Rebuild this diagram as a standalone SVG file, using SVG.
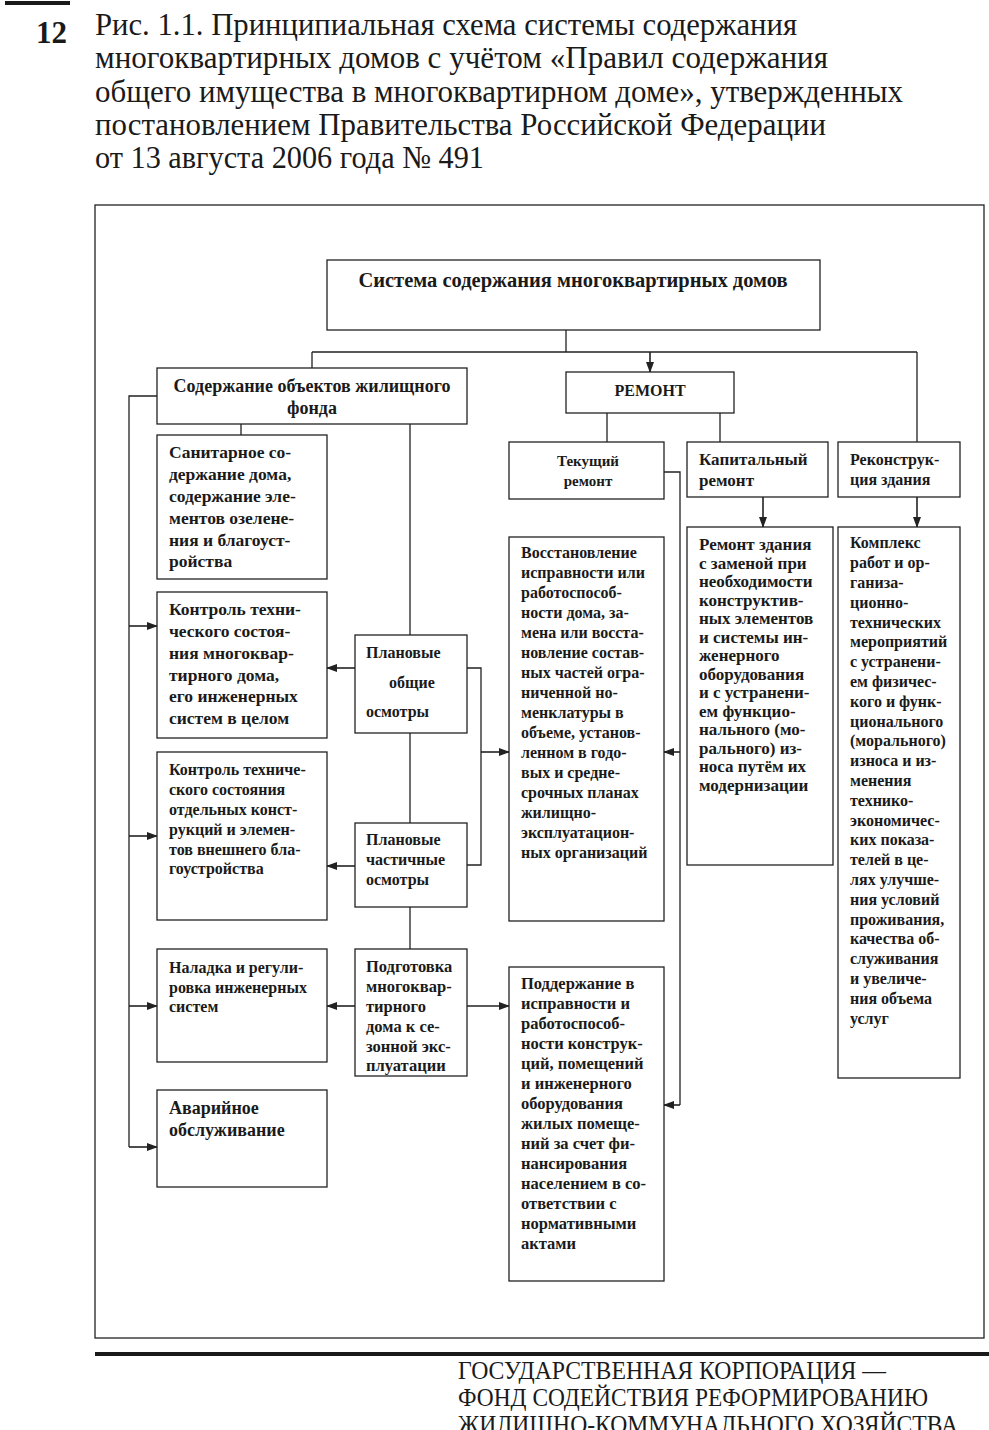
<svg xmlns="http://www.w3.org/2000/svg" width="989" height="1430" viewBox="0 0 989 1430">
<defs>
<style>
.bx{fill:#fff;stroke:#222;stroke-width:1.3}
.ln{fill:none;stroke:#222;stroke-width:1.3}
.ar{fill:none;stroke:#222;stroke-width:1.6;marker-end:url(#ah)}
.t{font-family:"Liberation Serif","Times New Roman",serif;font-weight:bold;fill:#1a1a1a}
.s15{font-size:15px}
.s16{font-size:16px}
.s165{font-size:16.5px}
.s17{font-size:17px}
.s175{font-size:17.5px}
.s18{font-size:18px}
.hd{font-family:"Liberation Serif","Times New Roman",serif;fill:#1a1a1a;font-size:32px}
.ft{font-family:"Liberation Serif","Times New Roman",serif;fill:#1a1a1a;font-size:25px}
</style>
<marker id="ah" markerWidth="11" markerHeight="8" refX="10" refY="4" orient="auto" markerUnits="userSpaceOnUse">
<path d="M0,0 L11,4 L0,8 z" fill="#222"/>
</marker>
</defs>
<rect width="989" height="1430" fill="#fff"/>

<g id="header">
<rect x="5" y="1" width="65" height="4" fill="#1a1a1a"/>
<text x="36" y="43" font-family="Liberation Serif, serif" font-weight="bold" font-size="31" fill="#1a1a1a">12</text>
<text class="hd" x="95" y="35" textLength="702" lengthAdjust="spacingAndGlyphs">Рис. 1.1. Принципиальная схема системы содержания</text>
<text class="hd" x="95" y="68" textLength="733" lengthAdjust="spacingAndGlyphs">многоквартирных домов с учётом «Правил содержания</text>
<text class="hd" x="95" y="102" textLength="808" lengthAdjust="spacingAndGlyphs">общего имущества в многоквартирном доме», утвержденных</text>
<text class="hd" x="95" y="135" textLength="731" lengthAdjust="spacingAndGlyphs">постановлением Правительства Российской Федерации</text>
<text class="hd" x="95" y="168" textLength="389" lengthAdjust="spacingAndGlyphs">от 13 августа 2006 года № 491</text>
</g>

<rect id="frame" x="95" y="205" width="889" height="1133" fill="none" stroke="#222" stroke-width="1.3"/>

<g id="connectors">
<path class="ln" d="M566,330 V352 M312,352 H917 M312,352 V368 M917,352 V442 M607,413 V442 M720,413 V442 M241,424 V435"/>
<path class="ar" d="M650,352 V372"/>
<path class="ln" d="M157,396 H129 V1147"/>
<path class="ar" d="M129,626 H157"/>
<path class="ar" d="M129,836 H157"/>
<path class="ar" d="M129,1006 H157"/>
<path class="ar" d="M129,1147 H157"/>
<path class="ln" d="M410,424 V635 M410,733 V823 M410,907 V949"/>
<path class="ar" d="M355,668 H327"/>
<path class="ar" d="M355,866 H327"/>
<path class="ar" d="M355,1006 H327"/>
<path class="ln" d="M467,668 H481 V865 H467"/>
<path class="ar" d="M481,752 H509"/>
<path class="ar" d="M467,1006 H509"/>
<path class="ln" d="M664,472 H680 V1105"/>
<path class="ar" d="M680,752 H664"/>
<path class="ar" d="M680,1105 H664"/>
<path class="ar" d="M763,497 V527"/>
<path class="ar" d="M917,497 V527"/>
</g>

<g id="n-system">
<rect class="bx" x="327" y="260" width="493" height="70"/>
<text class="t" x="573" y="287" font-size="20.5" text-anchor="middle">Система содержания многоквартирных домов</text>
</g>

<g id="n-soderzhanie">
<rect class="bx" x="157" y="368" width="310" height="56"/>
<text class="t s18" x="312" y="392" text-anchor="middle">Содержание объектов жилищного</text>
<text class="t s18" x="312" y="414" text-anchor="middle">фонда</text>
</g>

<g id="n-remont">
<rect class="bx" x="566" y="372" width="168" height="41"/>
<text class="t s16" x="650" y="396" text-anchor="middle">РЕМОНТ</text>
</g>

<g id="n-tekushchiy">
<rect class="bx" x="509" y="442" width="155" height="57"/>
<text class="t s15" x="588" y="466" text-anchor="middle">Текущий</text>
<text class="t s15" x="588" y="486" text-anchor="middle">ремонт</text>
</g>

<g id="n-kapitalnyy">
<rect class="bx" x="687" y="442" width="141" height="55"/>
<text class="t s17" x="699" y="465">Капитальный</text>
<text class="t s17" x="699" y="486">ремонт</text>
</g>

<g id="n-rekonstr">
<rect class="bx" x="838" y="442" width="122" height="55"/>
<text class="t s16" x="850" y="465">Реконструк-</text>
<text class="t s16" x="850" y="485">ция здания</text>
</g>

<g id="n-sanitar">
<rect class="bx" x="157" y="435" width="170" height="144"/>
<text class="t s175">
<tspan x="169" y="458">Санитарное со-</tspan>
<tspan x="169" y="480">держание дома,</tspan>
<tspan x="169" y="502">содержание эле-</tspan>
<tspan x="169" y="524">ментов озелене-</tspan>
<tspan x="169" y="546">ния и благоуст-</tspan>
<tspan x="169" y="567">ройства</tspan>
</text>
</g>

<g id="n-kontrol1">
<rect class="bx" x="157" y="592" width="170" height="146"/>
<text class="t s175">
<tspan x="169" y="615">Контроль техни-</tspan>
<tspan x="169" y="637">ческого состоя-</tspan>
<tspan x="169" y="659">ния  многоквар-</tspan>
<tspan x="169" y="681">тирного дома,</tspan>
<tspan x="169" y="702">его инженерных</tspan>
<tspan x="169" y="724">систем в целом</tspan>
</text>
</g>

<g id="n-kontrol2">
<rect class="bx" x="157" y="752" width="170" height="168"/>
<text class="t s16">
<tspan x="169" y="775">Контроль техниче-</tspan>
<tspan x="169" y="795">ского состояния</tspan>
<tspan x="169" y="815">отдельных конст-</tspan>
<tspan x="169" y="835">рукций и элемен-</tspan>
<tspan x="169" y="855">тов внешнего бла-</tspan>
<tspan x="169" y="874">гоустройства</tspan>
</text>
</g>

<g id="n-naladka">
<rect class="bx" x="157" y="949" width="170" height="113"/>
<text class="t s16">
<tspan x="169" y="973">Наладка и регули-</tspan>
<tspan x="169" y="993">ровка инженерных</tspan>
<tspan x="169" y="1012">систем</tspan>
</text>
</g>

<g id="n-avariynoe">
<rect class="bx" x="157" y="1090" width="170" height="97"/>
<text class="t s18">
<tspan x="169" y="1114">Аварийное</tspan>
<tspan x="169" y="1136">обслуживание</tspan>
</text>
</g>

<g id="n-plan-obshchie">
<rect class="bx" x="355" y="635" width="112" height="98"/>
<text class="t s16">
<tspan x="366" y="658">Плановые</tspan>
<tspan x="389" y="688">общие</tspan>
<tspan x="366" y="717">осмотры</tspan>
</text>
</g>

<g id="n-plan-chastichnye">
<rect class="bx" x="355" y="823" width="112" height="84"/>
<text class="t s16">
<tspan x="366" y="845">Плановые</tspan>
<tspan x="366" y="865">частичные</tspan>
<tspan x="366" y="885">осмотры</tspan>
</text>
</g>

<g id="n-podgotovka">
<rect class="bx" x="355" y="949" width="112" height="127"/>
<text class="t s165">
<tspan x="366" y="972">Подготовка</tspan>
<tspan x="366" y="992">многоквар-</tspan>
<tspan x="366" y="1012">тирного</tspan>
<tspan x="366" y="1032">дома к се-</tspan>
<tspan x="366" y="1052">зонной экс-</tspan>
<tspan x="366" y="1071">плуатации</tspan>
</text>
</g>

<g id="n-vosstanovlenie">
<rect class="bx" x="509" y="537" width="155" height="384"/>
<text class="t s16">
<tspan x="521" y="558">Восстановление</tspan>
<tspan x="521" y="578">исправности или</tspan>
<tspan x="521" y="598">работоспособ-</tspan>
<tspan x="521" y="618">ности дома, за-</tspan>
<tspan x="521" y="638">мена или восста-</tspan>
<tspan x="521" y="658">новление состав-</tspan>
<tspan x="521" y="678">ных частей огра-</tspan>
<tspan x="521" y="698">ниченной но-</tspan>
<tspan x="521" y="718">менклатуры в</tspan>
<tspan x="521" y="738">объеме, установ-</tspan>
<tspan x="521" y="758">ленном в годо-</tspan>
<tspan x="521" y="778">вых и средне-</tspan>
<tspan x="521" y="798">срочных планах</tspan>
<tspan x="521" y="818">жилищно-</tspan>
<tspan x="521" y="838">эксплуатацион-</tspan>
<tspan x="521" y="858">ных организаций</tspan>
</text>
</g>

<g id="n-podderzhanie">
<rect class="bx" x="509" y="967" width="155" height="314"/>
<text class="t s165">
<tspan x="521" y="989">Поддержание в</tspan>
<tspan x="521" y="1009">исправности и</tspan>
<tspan x="521" y="1029">работоспособ-</tspan>
<tspan x="521" y="1049">ности конструк-</tspan>
<tspan x="521" y="1069">ций, помещений</tspan>
<tspan x="521" y="1089">и инженерного</tspan>
<tspan x="521" y="1109">оборудования</tspan>
<tspan x="521" y="1129">жилых помеще-</tspan>
<tspan x="521" y="1149">ний за счет фи-</tspan>
<tspan x="521" y="1169">нансирования</tspan>
<tspan x="521" y="1189">населением в со-</tspan>
<tspan x="521" y="1209">ответствии с</tspan>
<tspan x="521" y="1229">нормативными</tspan>
<tspan x="521" y="1249">актами</tspan>
</text>
</g>

<g id="n-remont-zdaniya">
<rect class="bx" x="687" y="527" width="146" height="338"/>
<text class="t s17">
<tspan x="699" y="550">Ремонт здания</tspan>
<tspan x="699" y="569">с заменой при</tspan>
<tspan x="699" y="587">необходимости</tspan>
<tspan x="699" y="606">конструктив-</tspan>
<tspan x="699" y="624">ных элементов</tspan>
<tspan x="699" y="643">и системы ин-</tspan>
<tspan x="699" y="661">женерного</tspan>
<tspan x="699" y="680">оборудования</tspan>
<tspan x="699" y="698">и с устранени-</tspan>
<tspan x="699" y="717">ем функцио-</tspan>
<tspan x="699" y="735">нального (мо-</tspan>
<tspan x="699" y="754">рального) из-</tspan>
<tspan x="699" y="772">носа путём их</tspan>
<tspan x="699" y="791">модернизации</tspan>
</text>
</g>

<g id="n-kompleks">
<rect class="bx" x="838" y="527" width="122" height="551"/>
<text class="t s16">
<tspan x="850" y="548">Комплекс</tspan>
<tspan x="850" y="568">работ и ор-</tspan>
<tspan x="850" y="588">ганиза-</tspan>
<tspan x="850" y="608">ционно-</tspan>
<tspan x="850" y="628">технических</tspan>
<tspan x="850" y="647">мероприятий</tspan>
<tspan x="850" y="667">с устранени-</tspan>
<tspan x="850" y="687">ем физичес-</tspan>
<tspan x="850" y="707">кого и функ-</tspan>
<tspan x="850" y="727">ционального</tspan>
<tspan x="850" y="746">(морального)</tspan>
<tspan x="850" y="766">износа и из-</tspan>
<tspan x="850" y="786">менения</tspan>
<tspan x="850" y="806">технико-</tspan>
<tspan x="850" y="826">экономичес-</tspan>
<tspan x="850" y="845">ких показа-</tspan>
<tspan x="850" y="865">телей в це-</tspan>
<tspan x="850" y="885">лях улучше-</tspan>
<tspan x="850" y="905">ния условий</tspan>
<tspan x="850" y="925">проживания,</tspan>
<tspan x="850" y="944">качества об-</tspan>
<tspan x="850" y="964">служивания</tspan>
<tspan x="850" y="984">и увеличе-</tspan>
<tspan x="850" y="1004">ния объема</tspan>
<tspan x="850" y="1024">услуг</tspan>
</text>
</g>

<g id="footer">
<rect x="95" y="1352" width="894" height="4" fill="#1a1a1a"/>
<text class="ft" x="458" y="1379" textLength="428" lengthAdjust="spacingAndGlyphs">ГОСУДАРСТВЕННАЯ КОРПОРАЦИЯ —</text>
<text class="ft" x="458" y="1406" textLength="470" lengthAdjust="spacingAndGlyphs">ФОНД СОДЕЙСТВИЯ РЕФОРМИРОВАНИЮ</text>
<text class="ft" x="458" y="1433" textLength="500" lengthAdjust="spacingAndGlyphs">ЖИЛИЩНО-КОММУНАЛЬНОГО ХОЗЯЙСТВА</text>
</g>
</svg>
